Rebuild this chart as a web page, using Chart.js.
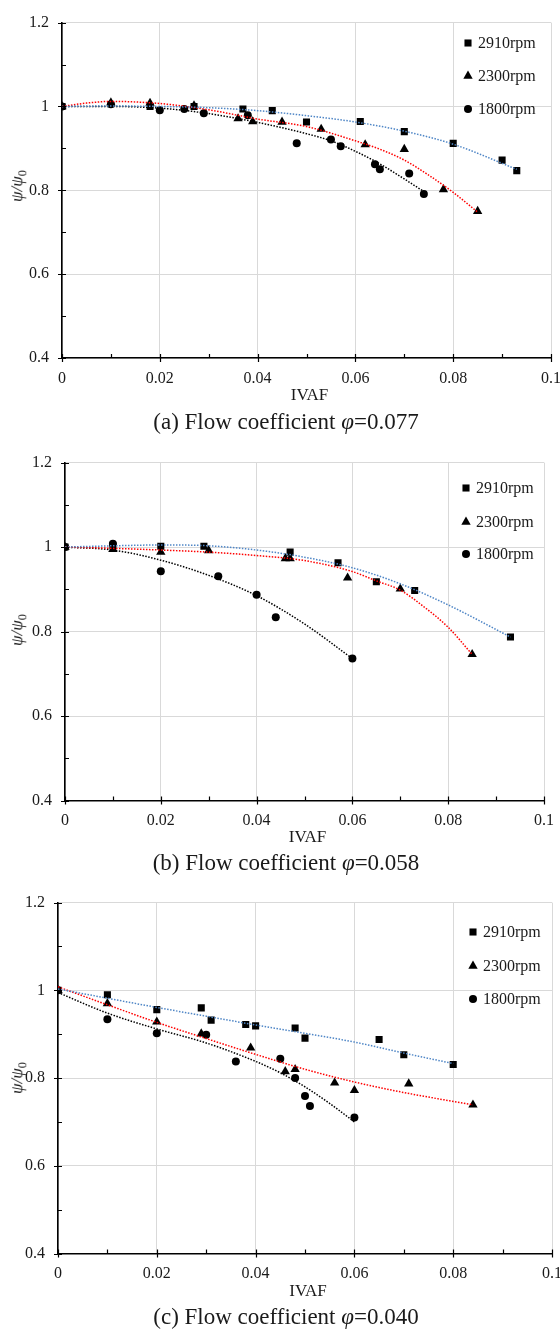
<!DOCTYPE html>
<html>
<head>
<meta charset="utf-8">
<script src="https://cdn.jsdelivr.net/npm/chart.js@4.4.1/dist/chart.umd.min.js"></script>
<style>
  html, body { margin: 0; padding: 0; background: #fff; }
  #page { position: relative; width: 560px; height: 1334px; overflow: hidden;
          font-family: "Liberation Serif", "DejaVu Serif", serif; color: #1a1a1a; }
  .panel { position: absolute; left: 0; width: 560px; }
  .panel canvas { position: absolute; left: 0; top: 0; }
  .xtitle { position: absolute; font-size: 17px; transform: translate(-50%, -50%); white-space: nowrap; }
  .caption { position: absolute; font-size: 23px; transform: translate(-50%, -50%); white-space: nowrap; }
  .ytitle { position: absolute; font-size: 17px; font-style: italic; white-space: nowrap;
            transform: translate(-50%, -50%) rotate(-90deg); }
  .ytitle sub { font-size: 72%; font-style: normal; }
</style>
</head>
<body>
<div id="page"></div>
<script>
// 축 눈금 / 범례
const xTicks = [0, 0.02, 0.04, 0.06, 0.08, 0.1];
const xMinorTicks = [0.01, 0.03, 0.05, 0.07, 0.09];
const yTicks = [0.4, 0.6, 0.8, 1, 1.2];
const yMinorTicks = [0.5, 0.7, 0.9, 1.1];
const speeds = ['2910rpm', '2300rpm', '1800rpm'];
const captions = ['(a) Flow coefficient ', '(b) Flow coefficient ', '(c) Flow coefficient '];
const phiValues = ['0.077', '0.058', '0.040'];

// (a) φ=0.077  [IVAF, ψ/ψ0]
const a2910 = [[0,1],[0.018,1.0],[0.027,1.0],[0.037,0.994],[0.043,0.99],[0.05,0.963],[0.061,0.964],[0.07,0.94],[0.08,0.912],[0.09,0.872],[0.093,0.847]];
const a2300 = [[0,1],[0.01,1.009],[0.018,1.008],[0.027,1.002],[0.036,0.971],[0.039,0.964],[0.045,0.963],[0.053,0.946],[0.062,0.909],[0.07,0.898],[0.078,0.802],[0.085,0.75]];
const a1800 = [[0,1],[0.01,1.005],[0.02,0.991],[0.025,0.994],[0.029,0.984],[0.038,0.979],[0.048,0.912],[0.055,0.921],[0.057,0.905],[0.064,0.862],[0.065,0.85],[0.071,0.84],[0.074,0.791]];
const aFit2910 = [[0,1],[0.01,1.001],[0.02,1.0],[0.03,0.997],[0.04,0.99],[0.05,0.978],[0.06,0.963],[0.07,0.941],[0.08,0.91],[0.093,0.85]];
const aFit2300 = [[0,1],[0.005,1.008],[0.01,1.012],[0.02,1.007],[0.03,0.992],[0.04,0.97],[0.05,0.952],[0.06,0.918],[0.065,0.898],[0.07,0.872],[0.075,0.836],[0.08,0.795],[0.085,0.748]];
const aFit1800 = [[0,1],[0.01,1.0],[0.02,0.996],[0.03,0.983],[0.04,0.962],[0.05,0.935],[0.055,0.918],[0.06,0.893],[0.065,0.863],[0.07,0.827],[0.074,0.797]];

// (b) φ=0.058
const b2910 = [[0,1],[0.01,1.003],[0.02,1.002],[0.029,1.002],[0.047,0.988],[0.057,0.963],[0.065,0.918],[0.073,0.897],[0.093,0.787]];
const b2300 = [[0,1],[0.01,0.995],[0.02,0.988],[0.03,0.992],[0.046,0.973],[0.047,0.973],[0.059,0.927],[0.07,0.901],[0.085,0.746]];
const b1800 = [[0,1],[0.01,1.008],[0.02,0.943],[0.032,0.931],[0.04,0.887],[0.044,0.834],[0.06,0.736]];
const bFit2910 = [[0,1],[0.01,1.003],[0.02,1.005],[0.03,1.003],[0.04,0.993],[0.05,0.976],[0.06,0.951],[0.07,0.913],[0.08,0.863],[0.093,0.787]];
const bFit2300 = [[0,1],[0.01,0.997],[0.02,0.993],[0.03,0.988],[0.04,0.98],[0.05,0.968],[0.06,0.942],[0.065,0.92],[0.07,0.898],[0.075,0.858],[0.08,0.81],[0.085,0.746]];
const bFit1800 = [[0,1],[0.01,0.993],[0.02,0.969],[0.03,0.933],[0.04,0.885],[0.05,0.818],[0.06,0.736]];

// (c) φ=0.040
const c2910 = [[0,1],[0.01,0.99],[0.02,0.956],[0.029,0.96],[0.031,0.932],[0.038,0.922],[0.04,0.919],[0.048,0.914],[0.05,0.891],[0.065,0.888],[0.07,0.853],[0.08,0.831]];
const c2300 = [[0,1],[0.01,0.97],[0.02,0.928],[0.029,0.901],[0.039,0.869],[0.046,0.815],[0.048,0.82],[0.056,0.789],[0.06,0.772],[0.071,0.787],[0.084,0.739]];
const c1800 = [[0,1],[0.01,0.934],[0.02,0.902],[0.03,0.899],[0.036,0.838],[0.045,0.844],[0.048,0.8],[0.05,0.759],[0.051,0.736],[0.06,0.71]];
const cFit2910 = [[0,1.003],[0.01,0.982],[0.02,0.961],[0.03,0.941],[0.04,0.921],[0.05,0.902],[0.06,0.882],[0.07,0.857],[0.08,0.833]];
const cFit2300 = [[0,1.008],[0.01,0.967],[0.02,0.927],[0.03,0.89],[0.04,0.854],[0.05,0.82],[0.06,0.791],[0.07,0.767],[0.084,0.739]];
const cFit1800 = [[0,0.995],[0.01,0.948],[0.02,0.912],[0.03,0.88],[0.04,0.838],[0.045,0.812],[0.05,0.78],[0.055,0.742],[0.06,0.7]];

const markerStyles = ['rect', 'triangle', 'circle'];
const markerRadius = [5, 5.4, 4];
const fitColors = ['#4f86c6', '#ff0000', '#000000'];

// 패널 배치 (캔버스 기준 좌표)
const panels = [
  { top: 0,   height: 440, left: 62, right: 551, plotTop: 14, plotBottom: 358,
    pts: [a2910, a2300, a1800], fits: [aFit2910, aFit2300, aFit1800],
    legendX: 468, legendY: [43, 76, 109], xTitleY: 395, captionY: 422 },
  { top: 440, height: 440, left: 65, right: 544, plotTop: 20, plotBottom: 360.5,
    pts: [b2910, b2300, b1800], fits: [bFit2910, bFit2300, bFit1800],
    legendX: 466, legendY: [48, 82, 114], xTitleY: 397, captionY: 423 },
  { top: 880, height: 454, left: 58, right: 552, plotTop: 22, plotBottom: 373.5,
    pts: [c2910, c2300, c1800], fits: [cFit2910, cFit2300, cFit1800],
    legendX: 473, legendY: [52, 86, 119], xTitleY: 411, captionY: 437 }
];

const toXY = arr => arr.map(p => ({ x: p[0], y: p[1] }));

// 마커 그리기 (범례용)
function drawMarker(ctx, style, r, x, y) {
  ctx.beginPath();
  if (style === 'rect') {
    const s = Math.SQRT1_2 * r;
    ctx.rect(x - s, y - s, 2 * s, 2 * s);
  } else if (style === 'triangle') {
    ctx.moveTo(x, y - r);
    ctx.lineTo(x + r * 0.866, y + r * 0.5);
    ctx.lineTo(x - r * 0.866, y + r * 0.5);
    ctx.closePath();
  } else {
    ctx.arc(x, y, r, 0, Math.PI * 2);
  }
  ctx.fill();
}

// 엑셀 스타일 눈금 + 내부 범례
const excelDeco = {
  id: 'excelDeco',
  afterDraw(chart, args, opts) {
    const ctx = chart.ctx;
    const area = chart.chartArea;
    const xs = chart.scales.x, ys = chart.scales.y;
    ctx.save();
    ctx.strokeStyle = '#000';
    ctx.lineWidth = 1.2;
    ctx.beginPath();
    xTicks.forEach(v => {
      const px = Math.round(xs.getPixelForValue(v)) + 0.5;
      ctx.moveTo(px, area.bottom + 4); ctx.lineTo(px, area.bottom - 4);
    });
    xMinorTicks.forEach(v => {
      const px = Math.round(xs.getPixelForValue(v)) + 0.5;
      ctx.moveTo(px, area.bottom); ctx.lineTo(px, area.bottom - 4);
    });
    yTicks.forEach(v => {
      const py = Math.round(ys.getPixelForValue(v)) + 0.5;
      ctx.moveTo(area.left - 4, py); ctx.lineTo(area.left + 4, py);
    });
    yMinorTicks.forEach(v => {
      const py = Math.round(ys.getPixelForValue(v)) + 0.5;
      ctx.moveTo(area.left, py); ctx.lineTo(area.left + 4, py);
    });
    ctx.stroke();

    ctx.font = '16px "Liberation Serif"';
    ctx.textBaseline = 'middle';
    speeds.forEach((label, i) => {
      const y = opts.legendY[i];
      ctx.fillStyle = '#000';
      drawMarker(ctx, markerStyles[i], markerRadius[i], opts.legendX, y);
      ctx.fillStyle = '#1a1a1a';
      ctx.fillText(label, opts.legendX + 10, y + 1);
    });
    ctx.restore();
  }
};

function buildPanel(p, idx) {
  const page = document.getElementById('page');
  const wrap = document.createElement('div');
  wrap.className = 'panel';
  wrap.style.top = p.top + 'px';
  wrap.style.height = p.height + 'px';
  const canvas = document.createElement('canvas');
  canvas.width = 560;
  canvas.height = p.height;
  wrap.appendChild(canvas);

  const yt = document.createElement('div');
  yt.className = 'ytitle';
  yt.innerHTML = 'ψ/ψ<sub>0</sub>';
  yt.style.left = '19px';
  yt.style.top = ((p.plotTop + p.plotBottom) / 2) + 'px';
  wrap.appendChild(yt);

  const xt = document.createElement('div');
  xt.className = 'xtitle';
  xt.textContent = 'IVAF';
  xt.style.left = ((p.left + p.right) / 2 + 3) + 'px';
  xt.style.top = p.xTitleY + 'px';
  wrap.appendChild(xt);

  const cap = document.createElement('div');
  cap.className = 'caption';
  cap.innerHTML = captions[idx] + '<i>φ</i>=' + phiValues[idx];
  cap.style.left = '286px';
  cap.style.top = p.captionY + 'px';
  wrap.appendChild(cap);

  page.appendChild(wrap);

  const datasets = [];
  p.pts.forEach((arr, i) => {
    datasets.push({
      label: speeds[i],
      data: toXY(arr),
      pointStyle: markerStyles[i],
      pointRadius: markerRadius[i],
      backgroundColor: '#000',
      borderColor: '#000',
      borderWidth: 0,
      showLine: false,
      order: 1
    });
  });
  p.fits.forEach((arr, i) => {
    datasets.push({
      label: speeds[i] + ' fit',
      data: toXY(arr),
      showLine: true,
      pointRadius: 0,
      borderColor: fitColors[i],
      borderWidth: 1.5,
      borderDash: [1.5, 1.5],
      tension: 0.4,
      cubicInterpolationMode: 'monotone',
      order: 0
    });
  });

  const tickFont = { family: '"Liberation Serif"', size: 16 };

  new Chart(canvas.getContext('2d'), {
    type: 'scatter',
    data: { datasets },
    options: {
      responsive: false,
      devicePixelRatio: 1,
      animation: false,
      layout: { padding: { left: 0, right: 560 - p.right, top: p.plotTop, bottom: 0 } },
      plugins: {
        legend: { display: false },
        tooltip: { enabled: false },
        excelDeco: { legendX: p.legendX, legendY: p.legendY }
      },
      scales: {
        x: {
          type: 'linear',
          min: 0,
          max: 0.1,
          afterBuildTicks: s => { s.ticks = xTicks.map(v => ({ value: v })); },
          afterFit: s => { s.height = p.height - p.plotBottom; s.paddingLeft = 0; s.paddingRight = 0; },
          grid: { color: '#d9d9d9', lineWidth: 1, drawTicks: false },
          border: { color: '#000', width: 1.6 },
          ticks: { font: tickFont, color: '#1a1a1a', padding: 11, maxRotation: 0,
                   callback: v => String(v) }
        },
        y: {
          type: 'linear',
          min: 0.4,
          max: 1.2,
          afterBuildTicks: s => { s.ticks = yTicks.map(v => ({ value: v })); },
          afterFit: s => { s.width = p.left; },
          grid: { color: '#d9d9d9', lineWidth: 1, drawTicks: false },
          border: { color: '#000', width: 1.6 },
          ticks: { font: tickFont, color: '#1a1a1a', padding: 13,
                   callback: v => String(v) }
        }
      }
    },
    plugins: [excelDeco]
  });
}

panels.forEach(buildPanel);
</script>
</body>
</html>
